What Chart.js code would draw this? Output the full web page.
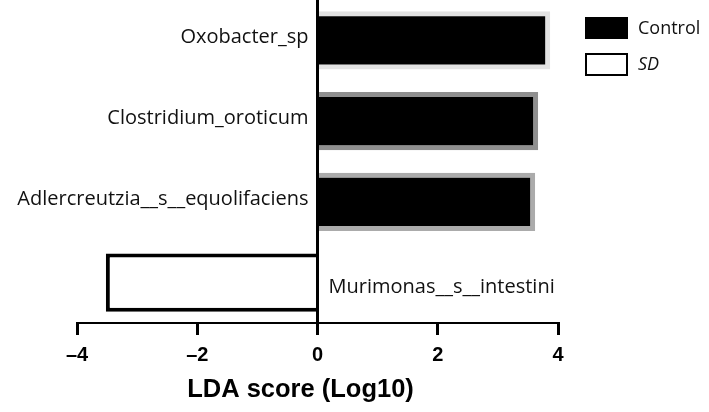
<!DOCTYPE html>
<html>
<head>
<meta charset="utf-8">
<script src="https://cdn.jsdelivr.net/npm/chart.js@4/dist/chart.umd.min.js"></script>
<style>
  html,body{margin:0;padding:0;background:#fff;}
  #wrap{width:709px;height:412px;position:relative;}
</style>
</head>
<body>
<div id="wrap"><canvas id="ch-lda"></canvas></div>
<script>
// taxa, top to bottom
const taxa = ['Oxobacter_sp','Clostridium_oroticum','Adlercreutzia__s__equolifaciens','Murimonas__s__intestini'];
const controlLDA = [3.87, 3.67, 3.62, null];
const sdLDA = [null, null, null, -3.52];
const controlEdge = ['#e2e2e2','#8f8f8f','#ababab'];
const xTicks = [-4,-2,0,2,4];
const xTitle = 'LDA score (Log10)';

const LABEL_FONT = "20px 'Open Sans'";
const LEGEND_FONT = "18px 'Open Sans'";

// taxon names sit beside the zero line, on the side away from the bar
const taxaLabels = {
  id:'taxaLabels',
  afterDatasetsDraw(chart){
    const {ctx, scales:{x,y}} = chart;
    const x0 = x.getPixelForValue(0);
    ctx.save();
    ctx.font = LABEL_FONT;
    ctx.fillStyle = '#111';
    ctx.textBaseline = 'middle';
    taxa.forEach((t,i)=>{
      const v = controlLDA[i] ?? sdLDA[i];
      const py = y.getPixelForValue(i);
      if(v>0){ ctx.textAlign='right'; ctx.fillText(t, x0-9, py-3); }
      else   { ctx.textAlign='left';  ctx.fillText(t, x0+11, py+5); }
    });
    // axis title, a bit left of centre as in the figure
    ctx.font = "bold 25.5px 'Liberation Sans', Arial, sans-serif";
    ctx.fillStyle = '#000';
    ctx.textAlign = 'center';
    ctx.fillText(xTitle, x0-17, 390);
    ctx.restore();
  }
};

// boxed legend top right
const boxLegend = {
  id:'boxLegend',
  afterDraw(chart){
    const {ctx} = chart;
    const items = chart.data.datasets;
    ctx.save();
    items.forEach((d,i)=>{
      const top = 17 + i*36;
      ctx.fillStyle = d.backgroundColor;
      ctx.fillRect(585, top, 43, 22);
      if(d.legendEdge){ ctx.lineWidth=2; ctx.strokeStyle=d.legendEdge; ctx.strokeRect(586, top+1, 41, 21); }
      ctx.fillStyle = '#111';
      ctx.font = (d.italic ? 'italic ' : '') + LEGEND_FONT;
      ctx.textAlign = 'left';
      ctx.textBaseline = 'middle';
      ctx.fillText(d.label, 638, top+12);
    });
    ctx.restore();
  }
};

new Chart(document.getElementById('ch-lda'), {
  type:'bar',
  data:{
    labels:taxa,
    datasets:[
      {label:'Control', data:controlLDA, backgroundColor:'#000', borderColor:controlEdge,
       borderWidth:5, borderSkipped:'start', legendEdge:null},
      {label:'SD', data:sdLDA, backgroundColor:'#fff', borderColor:'#000',
       borderWidth:4, borderSkipped:'start', legendEdge:'#000', italic:true}
    ]
  },
  options:{
    indexAxis:'y',
    responsive:true, maintainAspectRatio:false, animation:false,
    layout:{padding:{left:77, right:151, top:0, bottom:37}},
    categoryPercentage:0.72, barPercentage:1,
    plugins:{legend:{display:false}, tooltip:{enabled:false}},
    scales:{
      y:{display:false, stacked:true},
      x:{
        stacked:true, min:-4, max:4, z:1,
        afterBuildTicks:s=>{ s.ticks = xTicks.map(v=>({value:v})); },
        ticks:{
          font:{family:"'Liberation Sans', Arial, sans-serif", size:20, weight:'bold'},
          color:'#000', padding:8, maxRotation:0,
          callback:v=> v<0 ? '\u2013'+Math.abs(v) : String(v)
        },
        grid:{
          color:c=> c.tick && c.tick.value===0 ? '#000' : 'rgba(0,0,0,0)',
          lineWidth:3, tickColor:'#000', tickWidth:3, tickLength:12
        },
        border:{display:true, color:'#000', width:2}
      }
    }
  },
  plugins:[taxaLabels, boxLegend]
});
</script>
</body>
</html>
